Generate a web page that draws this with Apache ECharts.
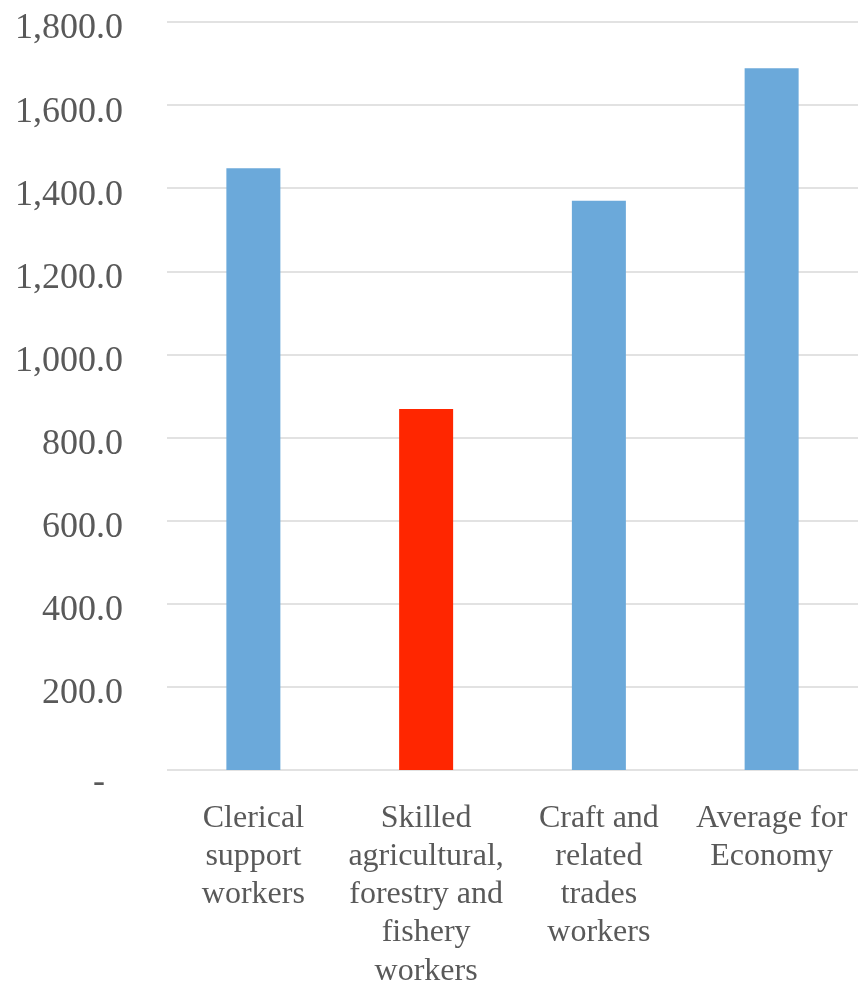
<!DOCTYPE html>
<html>
<head>
<meta charset="utf-8">
<script src="https://cdn.jsdelivr.net/npm/echarts@6/dist/echarts.min.js"></script>
<style>
html,body{margin:0;padding:0;background:#fff;}
#chart{width:858px;height:985px;}
</style>
</head>
<body>
<div id="chart"></div>
<script>
const categories = [
  "Clerical\nsupport\nworkers",
  "Skilled\nagricultural,\nforestry and\nfishery\nworkers",
  "Craft and\nrelated\ntrades\nworkers",
  "Average for\nEconomy"
];
const values = [1448, 869, 1370, 1689];
const barColors = ["#6BA9DA", "#FF2600", "#6BA9DA", "#6BA9DA"];
const yMin = 0, yMax = 1800, yInterval = 200;

const chart = echarts.init(document.getElementById('chart'), null, {renderer: 'canvas'});
chart.setOption({
  animation: false,
  backgroundColor: '#ffffff',
  grid: {left: 167, right: 0, top: 22, bottom: 215, containLabel: false, outerBoundsMode: 'none'},
  xAxis: {
    type: 'category',
    data: categories,
    axisLine: {show: false},
    axisTick: {show: false},
    axisLabel: {
      interval: 0,
      margin: 29,
      color: '#595959',
      fontFamily: 'Liberation Serif',
      fontSize: 32,
      lineHeight: 38.3,
      verticalAlign: 'top'
    }
  },
  yAxis: {
    type: 'value',
    min: yMin, max: yMax, interval: yInterval,
    axisLine: {show: false},
    axisTick: {show: false},
    splitLine: {lineStyle: {color: '#E2E2E2', width: 2}},
    axisLabel: {
      margin: 44,
      color: '#595959',
      fontFamily: 'Liberation Serif',
      fontSize: 36,
      padding: [14, 0, 0, 0],
      formatter: function (v) {
        if (v === 0) return '{z|-}';
        return v.toLocaleString('en-US', {minimumFractionDigits: 1, maximumFractionDigits: 1});
      },
      rich: {
        z: {
          fontFamily: 'Liberation Serif',
          fontSize: 36,
          color: '#595959',
          padding: [12, 18, 0, 0]
        }
      }
    }
  },
  series: [{
    type: 'bar',
    barWidth: 54,
    data: values.map((v, i) => ({value: v, itemStyle: {color: barColors[i]}}))
  }]
});
</script>
</body>
</html>
